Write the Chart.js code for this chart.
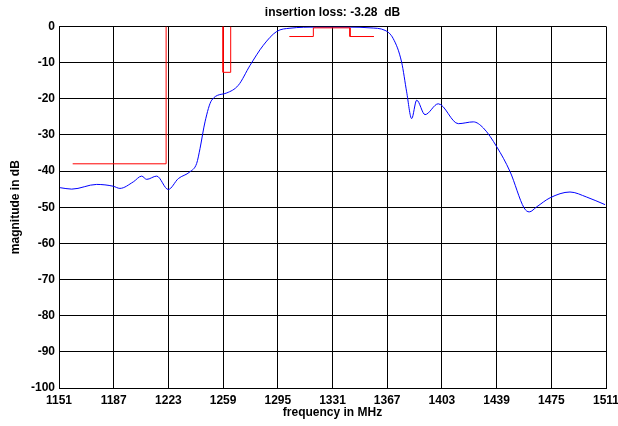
<!DOCTYPE html>
<html>
<head>
<meta charset="utf-8">
<title>insertion loss</title>
<script src="https://cdn.jsdelivr.net/npm/chart.js@4.4.1/dist/chart.umd.min.js"></script>
<style>
    body { margin: 0; background: #fff; }
    #wrap { width: 618px; height: 426px; }
</style>
</head>
<body>
<div id="wrap"><canvas id="lossChart" width="618" height="426"></canvas></div>
<script>
// frequency (MHz) / magnitude (dB)
const freq = [1151.7, 1159.4, 1175.8, 1186.7, 1191.1, 1199.9, 1205.4, 1208.7, 1215.3, 1222.9,
    1229.5, 1237.2, 1241.6, 1243.8, 1247.1, 1251.5, 1261.4, 1269, 1276.7, 1285.5,
    1294.3, 1303, 1320.6, 1342.5, 1355.7, 1365.6, 1371, 1376.5, 1379.8, 1383.1,
    1386.4, 1391.9, 1400.6, 1413.8, 1423.7, 1430.3, 1439.1, 1447.9, 1457.1, 1460.5,
    1465.4, 1474.2, 1487.3, 1498.3, 1510.4];
const magnitude = [-44.6, -45.0, -43.7, -44.2, -44.8, -43.0, -41.4, -42.3, -41.4, -45.1,
    -42.1, -40.2, -37.9, -33.8, -26.4, -20.4, -18.4, -16.3, -10.8, -5.2,
    -1.4, -0.5, -0.2, -0.2, -0.4, -1.1, -3.4, -9.9, -18.1, -25.5,
    -20.4, -24.4, -21.4, -26.9, -26.4, -28.1, -33.3, -40.2, -50.2, -51.3,
    -49.9, -47.4, -45.8, -47.2, -49.3];

// spec mask (null breaks the line)
const maskFreq = [1160, 1221.5, 1221.5, null, 1259, 1259, 1264, 1264, null,
    1302.6, 1318.4, 1318.4, 1342.5, 1342.5, 1358.3];
const maskLevel = [-38, -38, 0, null, 0, -12.7, -12.7, 0, null,
    -2.8, -2.8, -0.4, -0.4, -2.8, -2.8];

const xTicks = [1151, 1187, 1223, 1259, 1295, 1331, 1367, 1403, 1439, 1475, 1511];
const yMin = -100, yMax = 0, yStep = 10;

const toPoints = (xs, ys) => xs.map((x, i) => x === null ? { x: NaN, y: null } : { x, y: ys[i] });

const tickFont = { family: 'Liberation Sans, Arial, sans-serif', size: 12, weight: 'bold' };

new Chart(document.getElementById('lossChart'), {
    type: 'line',
    data: {
        datasets: [
            {
                label: 'mask',
                data: toPoints(maskFreq, maskLevel),
                borderColor: '#ff0000',
                borderWidth: 1,
                pointRadius: 0,
                spanGaps: false,
                tension: 0
            },
            {
                label: 'S21',
                data: toPoints(freq, magnitude),
                borderColor: '#0000ff',
                borderWidth: 1,
                pointRadius: 0,
                cubicInterpolationMode: 'monotone'
            }
        ]
    },
    options: {
        responsive: false,
        animation: false,
        devicePixelRatio: 1,
        layout: { padding: { left: 0, right: 12, top: 0, bottom: 0 } },
        plugins: {
            legend: { display: false },
            tooltip: { enabled: false },
            title: {
                display: true,
                fullSize: false,
                text: 'insertion loss: -3.28  dB',
                color: '#000',
                font: tickFont,
                padding: { top: 5, bottom: 7 }
            }
        },
        scales: {
            x: {
                type: 'linear',
                min: 1151,
                max: 1511,
                afterBuildTicks: scale => { scale.ticks = xTicks.map(v => ({ value: v })); },
                afterFit: scale => {
                    scale.height = 38;
                    scale.paddingLeft = 0;
                    scale.paddingRight = 0;
                },
                grid: { color: '#000', lineWidth: 1, drawTicks: false },
                border: { color: '#000', width: 1 },
                ticks: { color: '#000', font: tickFont, padding: 5, autoSkip: false, maxRotation: 0, callback: v => v },
                title: { display: true, text: 'frequency in MHz', color: '#000', font: tickFont, padding: { top: 0, bottom: 6 } }
            },
            y: {
                min: yMin,
                max: yMax,
                afterFit: scale => { scale.width = 59; },
                grid: { color: '#000', lineWidth: 1, drawTicks: false },
                border: { color: '#000', width: 1 },
                ticks: { stepSize: yStep, color: '#000', font: tickFont, padding: 4 },
                title: { display: true, text: 'magnitude in dB', color: '#000', font: tickFont, padding: { top: 8, bottom: 0 } }
            }
        }
    }
});
</script>
</body>
</html>
